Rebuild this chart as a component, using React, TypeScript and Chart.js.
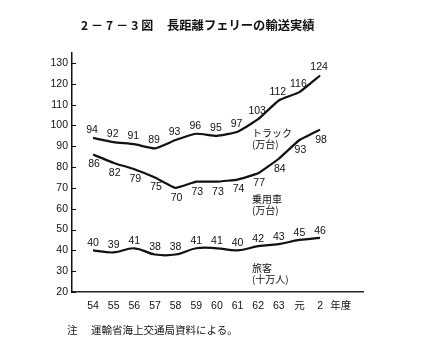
import React, { useEffect, useRef } from 'react';
import { Chart, registerables } from 'chart.js';

Chart.register(...registerables);

// ---- data ----
const years = ['54', '55', '56', '57', '58', '59', '60', '61', '62', '63', '元', '2'];
const truck = [94, 92, 91, 89, 93, 96, 95, 97, 103, 112, 116, 124];
const car = [86, 82, 79, 75, 70, 73, 73, 74, 77, 84, 93, 98];
const passenger = [40, 39, 41, 38, 38, 41, 41, 40, 42, 43, 45, 46];
const yTicks = [20, 30, 40, 50, 60, 70, 80, 90, 100, 110, 120, 130];
const unitLabel = '年度';
const seriesNames = [
  ['トラック', '(万台)'],
  ['乗用車', '(万台)'],
  ['旅客', '(十万人)'],
];
const titleNum = '2－7－3図';
const titleText = '長距離フェリーの輸送実績';
const noteHead = '注';
const noteText = '運輸省海上交通局資料による。';

// label styling per series (value label offsets in px, name anchor in data space)
const valueOffsets = [
  { dx: -1, dy: -8 },
  { dx: 1, dy: 10 },
  { dx: 0, dy: -7 },
];
const nameAnchors = [
  { x: 7.7, y: 96.2 },
  { x: 7.7, y: 64.5 },
  { x: 7.7, y: 31.4 },
];

const numFont = '"Liberation Sans Narrow", "Liberation Sans", "Noto Sans CJK JP", sans-serif';
const cjkFont = '"Noto Sans CJK JP", sans-serif';

const toPts = (arr: number[]) => arr.map((v, i) => ({ x: i, y: v }));

const labelPlugin = {
  id: 'customLabels',
  afterDatasetsDraw(chart: any) {
    const ctx = chart.ctx as CanvasRenderingContext2D;
    const xs = chart.scales.x;
    const ys = chart.scales.y;
    ctx.save();
    ctx.fillStyle = '#111';
    ctx.strokeStyle = '#111';
    ctx.lineWidth = 1;
    // inner tick marks on y axis
    ys.ticks.forEach((t: any) => {
      const y = Math.round(ys.getPixelForValue(t.value)) + 0.5;
      ctx.beginPath();
      ctx.moveTo(xs.left, y);
      ctx.lineTo(xs.left + 4, y);
      ctx.stroke();
    });
    // value labels
    ctx.font = '10.5px ' + numFont;
    ctx.textAlign = 'center';
    ctx.textBaseline = 'middle';
    chart.data.datasets.forEach((ds: any, di: number) => {
      const meta = chart.getDatasetMeta(di);
      const off = valueOffsets[di];
      meta.data.forEach((pt: any, i: number) => {
        ctx.fillText(String(ds.data[i].y), pt.x + off.dx, pt.y + off.dy);
      });
    });
    // series names
    ctx.font = '10px ' + cjkFont;
    ctx.textAlign = 'left';
    seriesNames.forEach((lines, si) => {
      const a = nameAnchors[si];
      const px = xs.getPixelForValue(a.x);
      const py = ys.getPixelForValue(a.y);
      lines.forEach((ln, li) => ctx.fillText(ln, px, py + li * 11));
    });
    ctx.restore();
  },
};

export default function App() {
  const ref = useRef<HTMLCanvasElement | null>(null);

  useEffect(() => {
    if (!ref.current) return;
    const mk = (data: number[], tension: number) => ({
      data: toPts(data),
      borderColor: '#111',
      borderWidth: 2.2,
      pointRadius: 0,
      tension,
      fill: false,
      clip: false as any,
    });
    const chart = new Chart(ref.current, {
      type: 'line',
      data: {
        datasets: [mk(truck, 0.15), mk(car, 0.1), mk(passenger, 0.4)],
      },
      options: {
        responsive: false,
        animation: false,
        devicePixelRatio: 1,
        layout: { padding: { top: 53, right: 68, left: 0, bottom: 0 } },
        plugins: { legend: { display: false }, tooltip: { enabled: false }, title: { display: false } },
        scales: {
          x: {
            type: 'linear',
            min: -1.02,
            max: 13.08,
            grid: { display: false, drawTicks: false },
            border: { display: true, color: '#222', width: 1.5, dash: [1, 1] },
            afterBuildTicks: (axis: any) => {
              axis.ticks = [...years.map((_, i) => ({ value: i })), { value: years.length }];
            },
            afterFit: (axis: any) => {
              axis.height = 70;
            },
            ticks: {
              autoSkip: false,
              maxRotation: 0,
              padding: 8,
              color: '#111',
              font: { size: 10.5, family: numFont },
              callback: (v: any) => {
                const n = Number(v);
                return n < years.length ? years[n] : unitLabel;
              },
            },
          },
          y: {
            type: 'linear',
            min: 20,
            max: 134.8,
            grid: { display: false, drawTicks: false },
            border: { display: true, color: '#111', width: 1.5 },
            afterBuildTicks: (axis: any) => {
              axis.ticks = yTicks.map((v) => ({ value: v }));
            },
            afterFit: (axis: any) => {
              axis.width = 72;
            },
            ticks: {
              padding: 4,
              color: '#111',
              font: { size: 10.5, family: numFont },
            },
          },
        },
      },
      plugins: [labelPlugin],
    } as any);
    return () => chart.destroy();
  }, []);

  return (
    <div style={{ position: 'fixed', left: 0, top: 0, width: 431, height: 362, background: '#fff', overflow: 'hidden' }}>
      <canvas ref={ref} width={431} height={362} style={{ position: 'absolute', left: 0, top: 0, width: 431, height: 362 }} />
      <div style={{ position: 'absolute', left: 81, top: 17, fontFamily: cjkFont, fontWeight: 700, fontSize: 12, letterSpacing: 3, color: '#111', whiteSpace: 'nowrap', lineHeight: '16px' }}>
        {titleNum}
      </div>
      <div style={{ position: 'absolute', left: 167, top: 17, fontFamily: cjkFont, fontWeight: 700, fontSize: 12.3, color: '#111', whiteSpace: 'nowrap', lineHeight: '16px' }}>
        {titleText}
      </div>
      <div style={{ position: 'absolute', left: 67, top: 323, fontFamily: cjkFont, fontSize: 10.5, color: '#111', whiteSpace: 'nowrap', lineHeight: '14px' }}>
        {noteHead}
      </div>
      <div style={{ position: 'absolute', left: 91, top: 323, fontFamily: cjkFont, fontSize: 10.5, color: '#111', whiteSpace: 'nowrap', lineHeight: '14px' }}>
        {noteText}
      </div>
    </div>
  );
}
